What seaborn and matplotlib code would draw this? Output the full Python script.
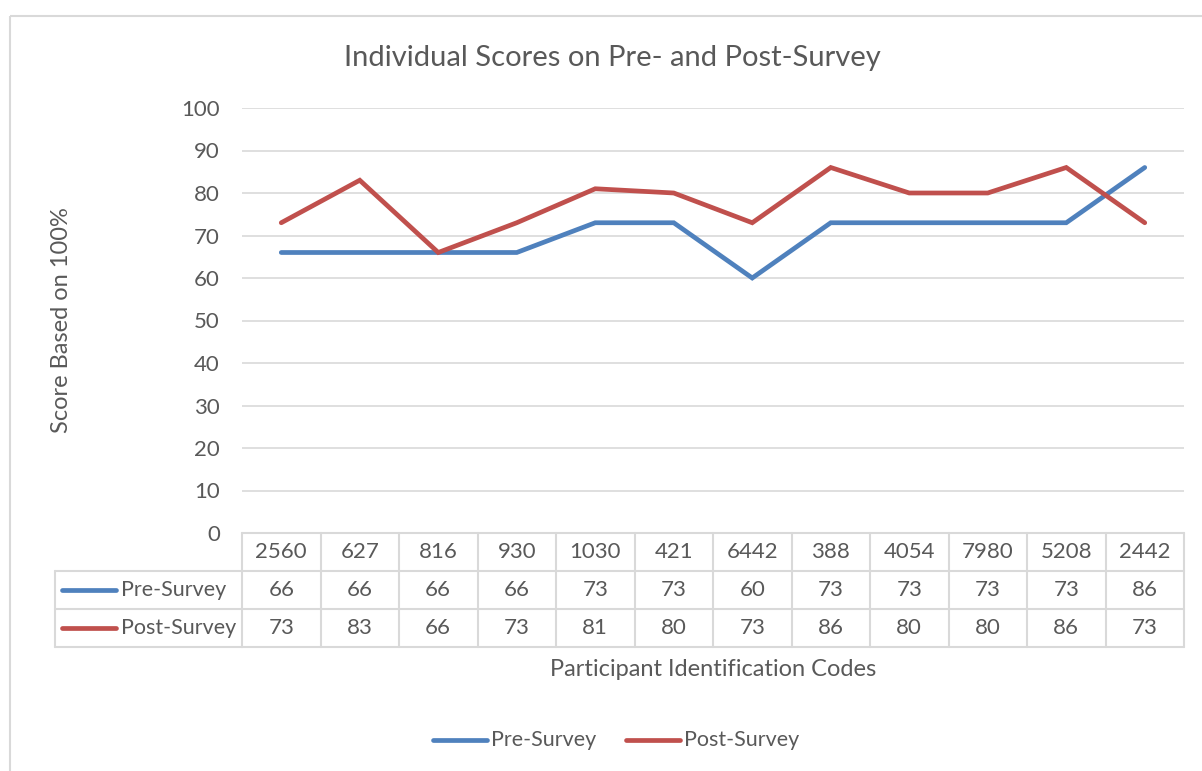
import matplotlib
matplotlib.use("Agg")
import matplotlib.pyplot as plt
import matplotlib.transforms as mtransforms
from matplotlib.patches import Rectangle
import seaborn as sns
import pandas as pd

codes = ["2560", "627", "816", "930", "1030", "421", "6442", "388", "4054", "7980", "5208", "2442"]
pre_survey = [66, 66, 66, 66, 73, 73, 60, 73, 73, 73, 73, 86]
post_survey = [73, 83, 66, 73, 81, 80, 73, 86, 80, 80, 86, 73]
series_names = ["Pre-Survey", "Post-Survey"]
yticks = list(range(0, 101, 10))

title = "Individual Scores on Pre- and Post-Survey"
ylabel = "Score Based on 100%"
xlabel = "Participant Identification Codes"

BLUE = "#4F81BD"
RED = "#C0504D"
TXT = "#595959"
GRID = "#D9D9D9"

sns.set_theme(style="white")
plt.rcParams["font.family"] = ["Lato", "DejaVu Sans"]

W, H = 1202, 771
fig = plt.figure(figsize=(W / 100, H / 100), dpi=100)
L, R, T, B = 242, 1184, 108, 533
ax = fig.add_axes([L / W, 1 - B / H, (R - L) / W, (B - T) / H])

df = pd.DataFrame({
    "pos": list(range(len(codes))) * 2,
    "score": pre_survey + post_survey,
    "series": [series_names[0]] * len(codes) + [series_names[1]] * len(codes),
})
sns.lineplot(data=df, x="pos", y="score", hue="series", palette=[BLUE, RED],
             linewidth=3.4, ax=ax, legend=False, solid_capstyle="round",
             solid_joinstyle="miter")

ax.set_xlim(-0.5, len(codes) - 0.5)
ax.set_ylim(0, 100)
ax.set_yticks(yticks)
ax.set_xticks([])
ax.set_xlabel("")
ax.set_ylabel("")
ax.tick_params(axis="y", length=0, pad=16, labelsize=16, labelcolor=TXT)
ax.yaxis.grid(True, color=GRID, linewidth=1.2)
ax.set_axisbelow(True)
for s in ax.spines.values():
    s.set_visible(False)

# overlay in pixel coordinates
ov = fig.add_axes([0, 0, 1, 1], zorder=5)
ov.set_xlim(0, W)
ov.set_ylim(H, 0)
ov.axis("off")
ov.patch.set_alpha(0)

# outer chart border
ov.add_patch(Rectangle((10, 16), 1250, 800, fill=False, edgecolor=GRID, linewidth=1.5))

ov.text(612, 58, title, ha="center", va="center", fontsize=21, color=TXT)
ov.text(62, (T + B) / 2, ylabel, ha="center", va="center", rotation=90, fontsize=17, color=TXT)
ov.text((L + R) / 2, 669, xlabel, ha="center", va="center", fontsize=17, color=TXT)

# data table
tr = mtransforms.blended_transform_factory(ax.transData, ov.transData)
row_y = [533, 571, 609, 647]
n = len(codes)
lw = 1.5
ov.plot([-0.5, n - 0.5], [row_y[0]] * 2, transform=tr, color=GRID, lw=lw, clip_on=False)
for y in row_y[1:]:
    ov.plot([-0.5, n - 0.5], [y, y], transform=tr, color=GRID, lw=lw, clip_on=False)
    ov.plot([55, L], [y, y], color=GRID, lw=lw)
ov.plot([55, 55], [row_y[1], row_y[3]], color=GRID, lw=lw)
for i in range(n + 1):
    ov.plot([i - 0.5, i - 0.5], [row_y[0], row_y[3]], transform=tr, color=GRID, lw=lw, clip_on=False)

fs = 16
for i, c in enumerate(codes):
    ov.text(i, (row_y[0] + row_y[1]) / 2, c, transform=tr, ha="center", va="center", fontsize=fs, color=TXT)
    ov.text(i, (row_y[1] + row_y[2]) / 2, str(pre_survey[i]), transform=tr, ha="center", va="center", fontsize=fs, color=TXT)
    ov.text(i, (row_y[2] + row_y[3]) / 2, str(post_survey[i]), transform=tr, ha="center", va="center", fontsize=fs, color=TXT)

for k, (name, col) in enumerate(zip(series_names, [BLUE, RED])):
    yc = (row_y[k + 1] + row_y[k + 2]) / 2
    ov.plot([62, 116], [yc, yc], color=col, lw=3.4, solid_capstyle="round")
    ov.text(121, yc, name, ha="left", va="center", fontsize=15.5, color=TXT)

# bottom legend
leg_items = [(433, BLUE, series_names[0]), (626, RED, series_names[1])]
for x0, col, name in leg_items:
    ov.plot([x0, x0 + 54], [740, 740], color=col, lw=3.4, solid_capstyle="round")
    ov.text(x0 + 58, 740, name, ha="left", va="center", fontsize=15.5, color=TXT)

fig.savefig("out.png", dpi=100, facecolor="white")
